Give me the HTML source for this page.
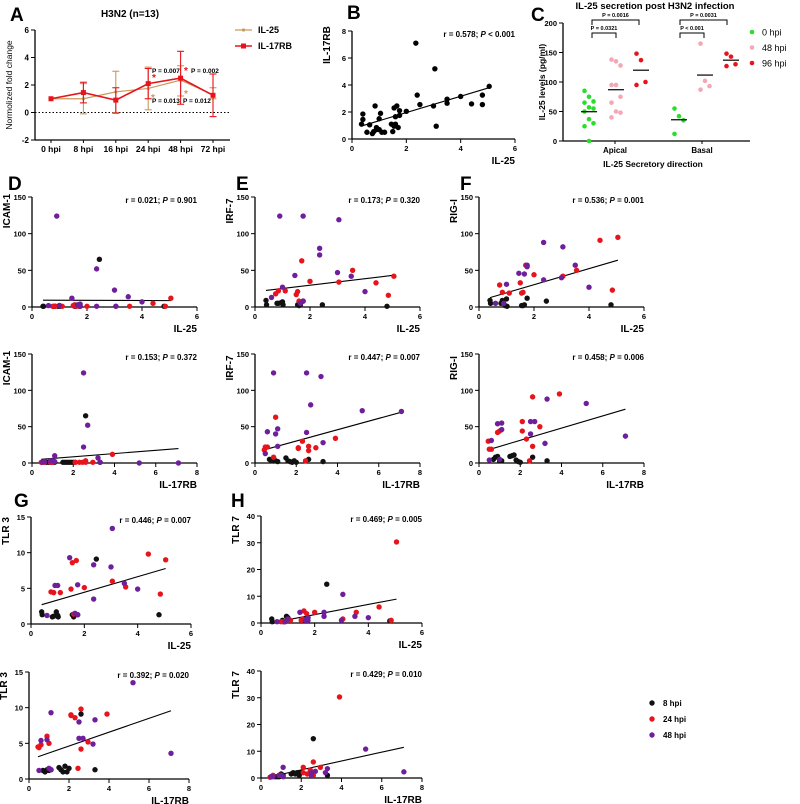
<!DOCTYPE html>
<html><head><meta charset="utf-8"><style>
html,body{margin:0;padding:0;background:#fff;}
svg{display:block;font-family:"Liberation Sans",Arial,sans-serif;font-weight:bold;}
</style></head><body>
<svg id="fig" width="800" height="804" viewBox="0 0 800 804" xmlns="http://www.w3.org/2000/svg"></svg>
<script>
// ---------- Panel A data ----------
const aCats=["0 hpi","8 hpi","16 hpi","24 hpi","48 hpi","72 hpi"];
const aIL17RB=[1,1.45,0.9,2.1,2.5,1.25];
const aIL17RBlo=[1,0.7,-0.05,1.0,0.6,-0.3];
const aIL17RBhi=[1,2.2,1.8,3.2,4.45,2.8];
const aIL25=[1,1.0,1.5,1.75,2.35,1.3];
const aIL25lo=[1,-0.1,0.0,0.2,1.2,1.0];
const aIL25hi=[1,2.1,3.0,3.3,3.4,1.8];
const aTicks=[-2,0,2,4,6];
// ---------- Panel B data ----------
const bX=[0.35,0.4,0.4,0.55,0.65,0.75,0.8,0.85,0.9,0.9,1.0,1.0,1.05,1.1,1.2,1.45,1.5,1.55,1.55,1.6,1.6,1.65,1.7,1.75,1.75,2.0,2.35,2.4,2.5,3.0,3.05,3.1,3.5,3.5,4.0,4.4,4.8,4.8,5.05];
const bY=[1.1,1.85,1.45,0.5,1.05,0.4,0.55,2.45,0.7,0.85,0.7,1.5,1.9,0.5,0.5,1.1,0.55,0.95,2.3,1.1,1.65,2.45,0.85,1.75,2.1,2.05,7.1,3.25,2.55,2.45,5.2,0.95,2.65,2.95,3.15,2.6,3.25,2.55,3.9];
// ---------- Panel C data ----------
const cApical0=[85,75,67,65,57,55,50,37,30,25,0];
const cApical48=[138,135,128,95,95,75,65,50,48,40];
const cApical96=[148,137,100,95];
const cBasal0=[55,42,35,12];
const cBasal48=[165,102,93,87];
const cBasal96=[148,143,130,127];
// ---------- shared x data (by time group) ----------
const il25Black=[0.4,0.42,0.8,0.85,0.95,1.0,1.02,1.55,1.6,1.65,1.75,2.45,4.8];
const il25Red=[0.75,0.85,1.1,1.5,1.55,1.6,1.7,2.0,3.05,3.55,4.4,4.85,5.05];
const il25Purple=[0.6,0.9,1.0,1.45,1.75,1.75,2.35,2.35,3.0,3.05,3.5,4.0,1.65];
const rbBlack=[0.7,0.8,0.9,1.0,1.1,1.5,1.6,1.7,1.8,1.9,2.6,3.3,2.0];
const rbRed=[0.45,0.5,0.6,0.9,1.0,2.1,2.1,2.3,2.45,2.6,2.6,2.95,3.9];
const rbPurple=[0.5,0.6,0.9,1.1,1.1,2.5,2.5,2.7,3.2,3.3,5.2,7.1,1.0];
// ---------- y data ----------
const dBlack1=[1,1,1,1,1,2,1,1,1,2,1,65,1];
const dRed1=[1,1,1,2,3,1,1,1,1,1,5,1,12];
const dPurple1=[2,124,2,12,4,1,52,1,23,1,14,7,3];
const eBlack1=[9,3,5,5,6,7,3,3,2,3,8,3,1];
const eRed1=[18,22,22,17,21,8,63,35,34,50,33,16,42];
const ePurple1=[13,124,27,43,124,8,80,71,47,119,42,21,5];
const fBlack1=[9,5,5,9,2,11,1,2,2,3,12,8,3];
const fRed1=[30,20,19,33,19,20,57,44,42,50,91,23,95];
const fPurple1=[5,5,31,46,55,57,88,37,40,82,57,27,45];
const gBlack1=[1.7,1.3,1.0,1.1,1.7,1.2,1.0,1.3,1.0,1.4,1.3,9.1,1.3];
const gRed1=[4.5,4.4,4.4,4.9,8.6,1.4,8.9,5.1,6.0,5.2,9.8,4.2,9.0];
const gPurple1=[1.2,5.4,5.4,9.3,1.3,5.5,8.3,3.5,8.0,13.4,5.7,4.9,1.5];
const hBlack1=[1.5,0.5,1,0.5,2.5,2,1.5,1,1,1.5,2,14.5,0.8];
const hRed1=[0.5,0.5,1,1,1.5,4.5,3.5,4,1.5,4,6,1,30.3];
const hPurple1=[0.5,0.5,1.5,4,2,1,4,2.5,1,10.7,2.5,2,1];
const dBlack2=[1,1,1,1,1,1,1,1,1,1,65,1,1];
const dRed2=[1,1,1,1,1,1,1,1,1,3,1,1,12];
const dPurple2=[1,2,3,10,2,124,22,52,7,1,0,0,3];
const eBlack2=[5,3,7,3,2,7,3,2,1,3,5,2,1];
const eRed2=[18,22,22,8,63,20,21,30,3,17,23,21,34];
const ePurple2=[13,43,124,23,47,124,42,80,119,28,72,71,40];
const fBlack2=[5,8,9,3,3,9,10,11,4,2,8,3,1];
const fRed2=[30,19,19,42,44,57,44,33,3,91,23,50,95];
const fPurple2=[4,31,54,46,55,40,57,57,27,88,82,37,5];
const gBlack2=[1.2,1.0,1.3,1.2,1.3,1.6,1.3,1.0,1.8,1.0,9.1,1.3,1.5];
const gRed2=[4.5,4.4,4.8,6.0,5.0,9.0,8.9,8.6,1.5,4.2,9.8,5.2,9.1];
const gPurple2=[1.2,5.4,5.5,9.3,1.3,8.0,5.7,5.7,4.9,8.3,13.5,3.6,1.5];
const hBlack2=[0.5,0.5,0.5,1.5,1,1.5,2,1.5,2,1,14.7,1,2];
const hRed2=[0.3,0.5,1,1,1,4,2,1.5,3,6,1,4,30.3];
const hPurple2=[0.5,0.5,1,4,0.5,2,1,2.5,2,3.5,10.8,2.3,1];

const NS="http://www.w3.org/2000/svg";
const svg=document.getElementById('fig');
function mk(tag,attrs,parent){const e=document.createElementNS(NS,tag);for(const k in attrs)e.setAttribute(k,attrs[k]);(parent||svg).appendChild(e);return e;}
function txt(s,x,y,size,anchor,parent,extra){const t=mk('text',Object.assign({x:x,y:y,'font-size':size,'text-anchor':anchor||'start',fill:'#000'},extra||{}),parent);t.textContent=s;return t;}
function grp(name){const g=mk('g',{});return g;}
const BLACK='#111',RED='#e8141c',PURPLE='#6f1e9c';

function letter(s,x,y){const t=txt(s,x,y,19,'start');}

// ---------- Panel A ----------
(function(){
  const g=grp('panel-a');
  const x0=35,x1=230,yT=30,yB=140,ymin=-2,ymax=6;
  const Y=v=>yB-(v-ymin)/(ymax-ymin)*(yB-yT);
  const X=i=>51+i*32.4;
  mk('line',{x1:x0,y1:yT,x2:x0,y2:yB,stroke:'#000','stroke-width':1.3},g);
  mk('line',{x1:x0,y1:yB,x2:x1,y2:yB,stroke:'#000','stroke-width':1.3},g);
  aTicks.forEach(v=>{mk('line',{x1:x0-4,y1:Y(v),x2:x0,y2:Y(v),stroke:'#000'},g);txt(String(v),x0-6,Y(v)+3,8,'end',g);});
  mk('line',{x1:x0,y1:Y(0),x2:x1,y2:Y(0),stroke:'#000','stroke-dasharray':'1.5,2'},g);
  aCats.forEach((c,i)=>{mk('line',{x1:X(i),y1:yB,x2:X(i),y2:yB+3,stroke:'#000'},g);txt(c,X(i),yB+12,8.5,'middle',g);});
  const yl=txt('Normolized fold change',12,Y(2),8.5,'middle',g,{transform:`rotate(-90 12 ${Y(2)})`,'font-weight':'normal'});
  
  const tt=txt('H3N2 (n=13)',130,17,10,'middle',g);
  function series(vals,lo,hi,col,name,sq){
    const sg=grp('series-'+name);g.appendChild(sg);
    vals.forEach((v,i)=>{if(hi[i]!==lo[i]){mk('line',{x1:X(i),y1:Y(lo[i]),x2:X(i),y2:Y(hi[i]),stroke:col,'stroke-width':1.1},sg);
      mk('line',{x1:X(i)-3.5,y1:Y(lo[i]),x2:X(i)+3.5,y2:Y(lo[i]),stroke:col,'stroke-width':1.1},sg);
      mk('line',{x1:X(i)-3.5,y1:Y(hi[i]),x2:X(i)+3.5,y2:Y(hi[i]),stroke:col,'stroke-width':1.1},sg);}});
    mk('polyline',{points:vals.map((v,i)=>X(i)+','+Y(v)).join(' '),fill:'none',stroke:col,'stroke-width':sq?1.6:1.2},sg);
    vals.forEach((v,i)=>{const m=sq?mk('rect',{x:X(i)-2.5,y:Y(v)-2.5,width:5,height:5,fill:col},sg):mk('circle',{cx:X(i),cy:Y(v),r:1.6,fill:col},sg);
      });
  }
  series(aIL25,aIL25lo,aIL25hi,'#c99a5b','il-25',false);
  series(aIL17RB,aIL17RBlo,aIL17RBhi,RED,'il-17rb',true);
  txt('P = 0.007',152,73,6.5,'start',g);txt('P = 0.002',191,73,6.5,'start',g);
  txt('P = 0.013',152,103,6.5,'start',g);txt('P = 0.012',183,103,6.5,'start',g);
  txt('*',152,81,10,'start',g,{fill:RED});txt('*',184,74,10,'start',g,{fill:RED});
  txt('*',151,101,10,'start',g,{fill:'#c99a5b'});txt('*',184,97,10,'start',g,{fill:'#c99a5b'});
  const lg=grp('legend-a');g.appendChild(lg);
  mk('line',{x1:235,y1:30,x2:252,y2:30,stroke:'#c99a5b','stroke-width':1.2},lg);mk('circle',{cx:243.5,cy:30,r:1.6,fill:'#c99a5b'},lg);
  txt('IL-25',258,33,9,'start',lg);
  mk('line',{x1:235,y1:46,x2:252,y2:46,stroke:RED,'stroke-width':1.6},lg);mk('rect',{x:241,y:43.5,width:5,height:5,fill:RED},lg);
  txt('IL-17RB',258,49,9,'start',lg);
})();
letter('A',10,21);

// ---------- generic scatter ----------
function scatter(name,box,xmax,xstep,ymax,ystep,xlab,ylab,rtext,groups){
  const g=grp(name);
  const {x0,x1,yT,yB}=box;
  const X=v=>x0+v/xmax*(x1-x0), Y=v=>yB-v/ymax*(yB-yT);
  mk('line',{x1:x0,y1:yT,x2:x0,y2:yB,stroke:'#000','stroke-width':1.3},g);
  mk('line',{x1:x0,y1:yB,x2:x1,y2:yB,stroke:'#000','stroke-width':1.3},g);
  for(let v=0;v<=ymax+1e-9;v+=ystep){mk('line',{x1:x0-4,y1:Y(v),x2:x0,y2:Y(v),stroke:'#000'},g);txt(String(v),x0-6,Y(v)+3,7.5,'end',g);}
  for(let v=0;v<=xmax+1e-9;v+=xstep){mk('line',{x1:X(v),y1:yB,x2:X(v),y2:yB+4,stroke:'#000'},g);txt(String(v),X(v),yB+12,7.5,'middle',g);}
  const xl=txt(xlab,x1,yB+25,10,'end',g);
  const yx=x0-22,yy=yT+14;
  const yl=txt(ylab,yx,yy,10,'middle',g,{transform:`rotate(-90 ${yx} ${yy})`});
  const parts=rtext.split('P');
  const rt=mk('text',{x:x1,y:yT+6,'font-size':8,'text-anchor':'end'},g);
  
  const t1=mk('tspan',{},rt);t1.textContent=parts[0];
  const t2=mk('tspan',{'font-style':'italic'},rt);t2.textContent='P';
  const t3=mk('tspan',{},rt);t3.textContent=parts[1];
  let xs=[],ys=[];groups.forEach(gr=>{xs=xs.concat(gr.x);ys=ys.concat(gr.y);});
  const n=xs.length,mx=xs.reduce((a,b)=>a+b,0)/n,my=ys.reduce((a,b)=>a+b,0)/n;
  let sxy=0,sxx=0;xs.forEach((x,i)=>{sxy+=(x-mx)*(ys[i]-my);sxx+=(x-mx)*(x-mx);});
  const b=sxy/sxx,a=my-b*mx,xa=Math.min(...xs),xb=Math.max(...xs);
  const rl=mk('line',{x1:X(xa),y1:Y(a+b*xa),x2:X(xb),y2:Y(a+b*xb),stroke:'#000','stroke-width':1.1},g);
  
  groups.forEach(gr=>{gr.x.forEach((xv,i)=>{const c=mk('circle',{cx:X(xv),cy:Y(gr.y[i]),r:2.7,fill:gr.c},g);
    
    });});
  return g;
}
scatter('panel-b',{x0:352,x1:515,yT:31,yB:139},6,2,8,2,'IL-25','IL-17RB','r = 0.578; P < 0.001',[{x:bX,y:bY,c:'#000',n:'sample'}]);
letter('B',347,19);

function G3(xb,yb,xr,yr,xp,yp){return [{x:xb,y:yb,c:BLACK,n:'8-hpi'},{x:xr,y:yr,c:RED,n:'24-hpi'},{x:xp,y:yp,c:PURPLE,n:'48-hpi'}];}
const R1={yT:197,yB:307},R2={yT:354,yB:463};
scatter('panel-d-il25',{x0:32,x1:197,...R1},6,2,150,50,'IL-25','ICAM-1','r = 0.021; P = 0.901',G3(il25Black,dBlack1,il25Red,dRed1,il25Purple,dPurple1));
scatter('panel-e-il25',{x0:255,x1:420,...R1},6,2,150,50,'IL-25','IRF-7','r = 0.173; P = 0.320',G3(il25Black,eBlack1,il25Red,eRed1,il25Purple,ePurple1));
scatter('panel-f-il25',{x0:479,x1:644,...R1},6,2,150,50,'IL-25','RIG-I','r = 0.536; P = 0.001',G3(il25Black,fBlack1,il25Red,fRed1,il25Purple,fPurple1));
scatter('panel-d-il17rb',{x0:32,x1:197,...R2},8,2,150,50,'IL-17RB','ICAM-1','r = 0.153; P = 0.372',G3(rbBlack,dBlack2,rbRed,dRed2,rbPurple,dPurple2));
scatter('panel-e-il17rb',{x0:255,x1:420,...R2},8,2,150,50,'IL-17RB','IRF-7','r = 0.447; P = 0.007',G3(rbBlack,eBlack2,rbRed,eRed2,rbPurple,ePurple2));
scatter('panel-f-il17rb',{x0:479,x1:644,...R2},8,2,150,50,'IL-17RB','RIG-I','r = 0.458; P = 0.006',G3(rbBlack,fBlack2,rbRed,fRed2,rbPurple,fPurple2));
scatter('panel-g-il25',{x0:31,x1:191,yT:517,yB:624},6,2,15,5,'IL-25','TLR 3','r = 0.446; P = 0.007',G3(il25Black,gBlack1,il25Red,gRed1,il25Purple,gPurple1));
scatter('panel-h-il25',{x0:261,x1:422,yT:516,yB:623},6,2,40,10,'IL-25','TLR 7','r = 0.469; P = 0.005',G3(il25Black,hBlack1,il25Red,hRed1,il25Purple,hPurple1));
scatter('panel-g-il17rb',{x0:29,x1:189,yT:672,yB:779},8,2,15,5,'IL-17RB','TLR 3','r = 0.392; P = 0.020',G3(rbBlack,gBlack2,rbRed,gRed2,rbPurple,gPurple2));
scatter('panel-h-il17rb',{x0:261,x1:422,yT:671,yB:778},8,2,40,10,'IL-17RB','TLR 7','r = 0.429; P = 0.010',G3(rbBlack,hBlack2,rbRed,hRed2,rbPurple,hPurple2));
letter('D',8,190);letter('E',236,190);letter('F',460,190);letter('G',14,507);letter('H',231,507);

(function(){const g=grp('legend-time');
  [['8 hpi',BLACK],['24 hpi',RED],['48 hpi',PURPLE]].forEach((d,i)=>{const y=703+i*16;
    const c=mk('circle',{cx:652,cy:y,r:2.7,fill:d[1]},g);
    txt(d[0],663,y+3,8,'start',g);});})();

// ---------- Panel C ----------
(function(){
  const g=grp('panel-c');
  const x0=563,x1=750,yT=23,yB=141,ymax=200;
  const Y=v=>yB-v/ymax*(yB-yT);
  mk('line',{x1:x0,y1:yT,x2:x0,y2:yB,stroke:'#000','stroke-width':1.3},g);
  mk('line',{x1:x0,y1:yB,x2:x1,y2:yB,stroke:'#000','stroke-width':1.3},g);
  [0,50,100,150,200].forEach(v=>{mk('line',{x1:x0-4,y1:Y(v),x2:x0,y2:Y(v),stroke:'#000'},g);txt(String(v),x0-6,Y(v)+3,7.5,'end',g);});
  txt('Apical',615,153,8,'middle',g);txt('Basal',702,153,8,'middle',g);
  mk('line',{x1:615,y1:yB,x2:615,y2:yB+3,stroke:'#000'},g);mk('line',{x1:702,y1:yB,x2:702,y2:yB+3,stroke:'#000'},g);
  const xl=txt('IL-25 Secretory direction',653,167,8.5,'middle',g);
  const yl=txt('IL-25 levels (pg/ml)',545,82,8.5,'middle',g,{transform:'rotate(-90 545 82)'});
  const tt=txt('IL-25 secretion post H3N2 infection',655,9,9.5,'middle',g);
  const groups=[[cApical0,589,'#2add2a','apical-0hpi'],[cApical48,616,'#f4a7b4','apical-48hpi'],[cApical96,641,RED,'apical-96hpi'],
                [cBasal0,679,'#2add2a','basal-0hpi'],[cBasal48,705,'#f4a7b4','basal-48hpi'],[cBasal96,731,RED,'basal-96hpi']];
  groups.forEach(([vals,cx,col,name])=>{
    const mean=vals.reduce((a,b)=>a+b,0)/vals.length;
    vals.forEach((v,i)=>{const c=mk('circle',{cx:cx+((i%3)-1)*4.5,cy:Y(v),r:2.3,fill:col},g);
      });
    const m=mk('line',{x1:cx-8,y1:Y(mean),x2:cx+8,y2:Y(mean),stroke:'#000','stroke-width':1.2},g);
    
  });
  function br(xa,xb,y,label){mk('polyline',{points:`${xa},${y+5} ${xa},${y} ${xb},${y} ${xb},${y+5}`,fill:'none',stroke:'#000','stroke-width':1},g);
    const t=txt(label,(xa+xb)/2,y-3,5.5,'middle',g);}
  br(592,616,33,'P = 0.0321');br(592,639,20,'P = 0.0016');br(680,704,33,'P < 0.001');br(680,727,20,'P = 0.0031');
  const lg=grp('legend-c');
  [['0 hpi','#2add2a'],['48 hpi','#f4a7b4'],['96 hpi',RED]].forEach((d,i)=>{const y=32+i*15.5;mk('circle',{cx:752,cy:y,r:2.3,fill:d[1]},lg);txt(d[0],762,y+3.5,9,'start',lg,{'font-weight':'normal'});});
})();
letter('C',531,21);
</script>
</body></html>
